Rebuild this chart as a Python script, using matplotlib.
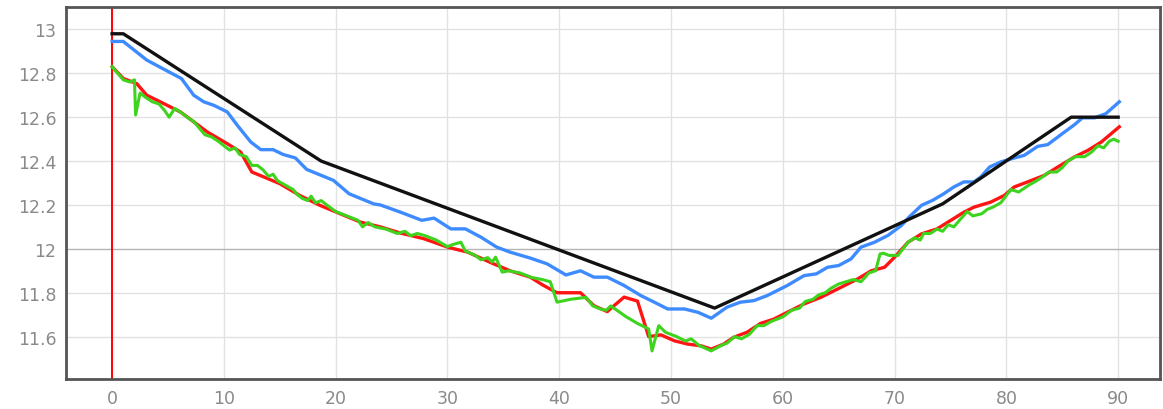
import matplotlib
matplotlib.use("Agg")
import matplotlib.pyplot as plt

# piecewise reference (black)
black_x = [0, 1.0, 18.7, 53.9, 74.3, 85.8, 90]
black_y = [12.98, 12.98, 12.40, 11.73, 12.205, 12.60, 12.60]

# blue series
blue_x = [0, 1.0, 3.1, 6.2, 7.3, 8.2, 9.1, 10.3, 11.2, 12.4, 13.3, 14.4, 15.3,
          16.4, 17.4, 19.8, 21.2, 22.2, 23.4, 24.0, 25.8, 27.7, 28.8, 30.3,
          31.6, 33.0, 34.4, 35.6, 37.4, 38.9, 40.6, 41.9, 43.1, 44.3, 45.8,
          47.3, 48.5, 49.7, 51.2, 52.4, 53.6, 55.0, 56.2, 57.4, 58.6, 60.4,
          61.9, 63.0, 64.0, 65.0, 66.1, 67.0, 68.2, 69.4, 70.6, 71.3, 72.4,
          73.4, 74.4, 75.3, 76.2, 77.1, 77.7, 78.5, 79.5, 80.7, 81.6, 82.8,
          83.7, 84.9, 86.1, 86.8, 87.9, 88.9, 90.1]
blue_y = [12.945, 12.945, 12.86, 12.776, 12.70, 12.67, 12.654, 12.624, 12.563,
          12.487, 12.452, 12.452, 12.43, 12.414, 12.362, 12.312, 12.251, 12.23,
          12.205, 12.20, 12.167, 12.13, 12.14, 12.091, 12.091, 12.053, 12.008,
          11.985, 11.958, 11.932, 11.881, 11.90, 11.871, 11.871, 11.833,
          11.787, 11.757, 11.726, 11.726, 11.711, 11.684, 11.734, 11.757,
          11.764, 11.787, 11.833, 11.878, 11.886, 11.916, 11.924, 11.954,
          12.008, 12.03, 12.061, 12.106, 12.145, 12.198, 12.221, 12.251,
          12.282, 12.305, 12.305, 12.327, 12.373, 12.396, 12.414, 12.426,
          12.467, 12.475, 12.521, 12.566, 12.597, 12.597, 12.616, 12.67]

# red series
red_x = [0, 1.0, 2.2, 3.1, 4.3, 6.1, 7.3, 8.5, 10.3, 11.5, 12.5, 13.6, 15.0,
         16.8, 18.6, 20.4, 22.2, 24.0, 25.8, 27.9, 30.0, 31.8, 33.8, 35.6,
         37.4, 38.6, 39.8, 41.9, 43.1, 44.3, 44.9, 45.8, 47.0, 48.0, 49.1,
         50.3, 51.5, 52.7, 53.6, 54.7, 55.6, 56.8, 58.0, 59.2, 60.4, 61.9,
         63.4, 64.9, 66.7, 67.9, 69.1, 70.0, 71.2, 72.4, 73.8, 75.0, 76.2,
         77.1, 78.6, 79.8, 80.7, 81.9, 83.4, 84.6, 86.1, 87.3, 88.5, 90.1]
red_y = [12.83, 12.776, 12.753, 12.70, 12.67, 12.624, 12.579, 12.533, 12.479,
         12.441, 12.35, 12.327, 12.297, 12.243, 12.198, 12.16, 12.122, 12.10,
         12.072, 12.046, 12.008, 11.985, 11.939, 11.90, 11.871, 11.833, 11.80,
         11.80, 11.741, 11.714, 11.741, 11.78, 11.762, 11.60, 11.608, 11.581,
         11.566, 11.558, 11.543, 11.566, 11.597, 11.62, 11.66, 11.68, 11.711,
         11.749, 11.779, 11.817, 11.863, 11.90, 11.916, 11.962, 12.03, 12.068,
         12.091, 12.129, 12.167, 12.19, 12.213, 12.243, 12.282, 12.305,
         12.335, 12.373, 12.419, 12.449, 12.487, 12.556]

# green series
green_x = [0, 0.5, 1.0, 1.6, 2.0, 2.1, 2.5, 3.0, 3.6, 4.2, 4.7, 5.1, 5.6, 6.2,
           6.7, 7.3, 7.8, 8.3, 8.9, 9.5, 10.0, 10.5, 11.0, 11.4, 12.0, 12.5,
           13.0, 13.5, 14.0, 14.4, 14.8, 15.5, 16.2, 16.5, 17.0, 17.5, 17.8,
           18.2, 18.7, 19.2, 20.0, 21.0, 22.0, 22.4, 22.9, 23.5, 24.5, 25.5,
           26.2, 26.7, 27.3, 28.0, 29.0, 30.0, 30.5, 31.2, 31.6, 32.5, 33.0,
           33.6, 34.0, 34.3, 34.9, 35.5, 36.5, 37.5, 38.5, 39.2, 39.8, 41.0,
           42.4, 43.0, 43.7, 44.2, 44.6, 46.0, 47.0, 48.0, 48.3, 48.9, 49.5,
           50.5, 51.3, 51.8, 52.5, 53.6, 54.5, 55.0, 55.7, 56.3, 57.0, 57.7,
           58.3, 59.0, 60.0, 60.8, 61.5, 62.0, 62.7, 63.2, 63.8, 64.3, 65.0,
           66.3, 67.0, 67.7, 68.3, 68.7, 69.0, 69.5, 70.3, 71.2, 71.8, 72.3,
           72.6, 73.2, 73.8, 74.3, 74.8, 75.3, 75.8, 76.5, 77.0, 77.8, 78.3,
           78.8, 79.5, 80.4, 81.1, 82.0, 82.7, 83.3, 83.8, 84.5, 85.0, 85.5,
           86.2, 87.0, 87.6, 88.2, 88.7, 89.2, 89.6, 90.0]
green_y = [12.83, 12.80, 12.77, 12.76, 12.77, 12.61, 12.71, 12.69, 12.67, 12.66,
           12.63, 12.60, 12.64, 12.62, 12.60, 12.58, 12.55, 12.52, 12.51, 12.49,
           12.47, 12.45, 12.46, 12.43, 12.42, 12.38, 12.38, 12.36, 12.33, 12.34,
           12.31, 12.29, 12.27, 12.25, 12.23, 12.22, 12.24, 12.21, 12.22, 12.20,
           12.17, 12.15, 12.13, 12.10, 12.12, 12.10, 12.09, 12.07, 12.08, 12.06,
           12.07, 12.06, 12.04, 12.01, 12.02, 12.03, 11.99, 11.97, 11.95, 11.96,
           11.94, 11.962, 11.894, 11.90, 11.89, 11.87, 11.86, 11.85, 11.757,
           11.77, 11.779, 11.74, 11.726, 11.72, 11.74, 11.69, 11.66, 11.635,
           11.535, 11.65, 11.62, 11.60, 11.58, 11.59, 11.56, 11.535, 11.56,
           11.57, 11.60, 11.59, 11.61, 11.65, 11.65, 11.67, 11.69, 11.72, 11.73,
           11.76, 11.77, 11.79, 11.80, 11.82, 11.84, 11.86, 11.85, 11.89, 11.90,
           11.977, 11.98, 11.97, 11.97, 12.03, 12.05, 12.04, 12.07, 12.07,
           12.09, 12.08, 12.11, 12.10, 12.13, 12.17, 12.15, 12.16, 12.18, 12.19,
           12.21, 12.27, 12.259, 12.29, 12.31, 12.33, 12.35, 12.35, 12.37,
           12.40, 12.42, 12.42, 12.44, 12.47, 12.46, 12.49, 12.50, 12.49]

x_ticks = [0, 10, 20, 30, 40, 50, 60, 70, 80, 90]
y_ticks = [11.6, 11.8, 12, 12.2, 12.4, 12.6, 12.8, 13]
y_labels = ["11.6", "11.8", "12", "12.2", "12.4", "12.6", "12.8", "13"]

fig = plt.figure(figsize=(11.63, 4.10), dpi=100)
ax = fig.add_axes([0.0568, 0.0732, 0.9405, 0.9073])

# grid
for xv in x_ticks:
    ax.axvline(xv, color="#e2e2e2", lw=1.0, zorder=0)
for yv in y_ticks:
    ax.axhline(yv, color="#b5b5b5" if yv == 12 else "#e2e2e2", lw=1.0, zorder=0)

ax.axvline(0, color="#ff0000", lw=1.4, zorder=1)

ax.plot(red_x, red_y, color="#ff1414", lw=2.4, zorder=2)
ax.plot(green_x, green_y, color="#3ed41e", lw=2.2, zorder=3)
ax.plot(blue_x, blue_y, color="#3d8bff", lw=2.4, zorder=4)
ax.plot(black_x, black_y, color="#111111", lw=2.4, zorder=5)

ax.set_xlim(-4.12, 93.73)
ax.set_ylim(11.407, 13.102)
ax.set_xticks(x_ticks)
ax.set_yticks(y_ticks)
ax.set_yticklabels(y_labels)
ax.tick_params(length=0, labelsize=12.5, labelcolor="#8a8a8a", pad=7)

for s in ax.spines.values():
    s.set_color("#555555")
    s.set_linewidth(2.0)

fig.savefig("out.png", dpi=100)
